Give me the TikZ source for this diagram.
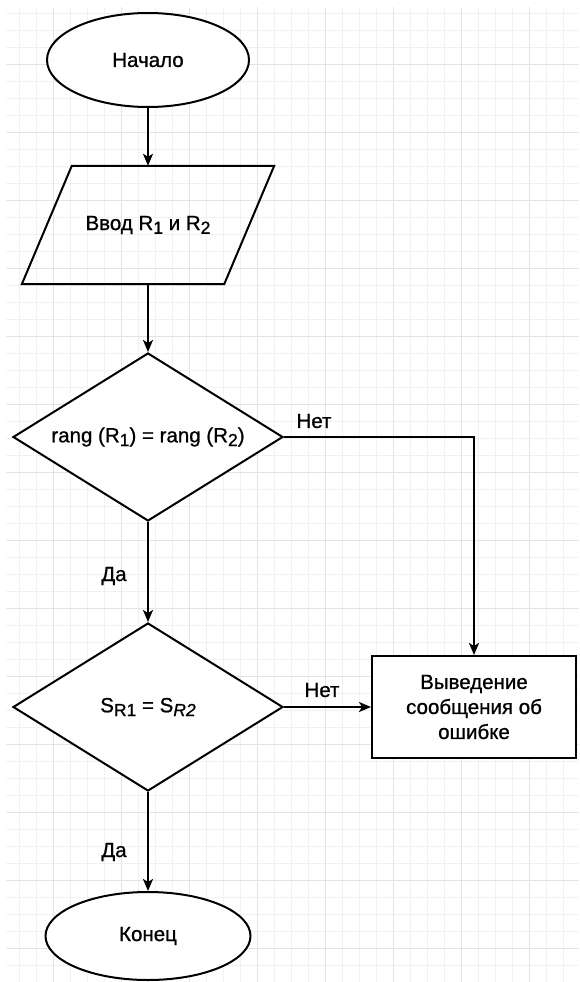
\documentclass[tikz,border=0pt]{standalone}
\usepackage{fontspec}
\setmainfont{Liberation Sans}[FakeBold=0.9]
\usetikzlibrary{shapes.geometric,arrows.meta,calc}

% lowered, slightly smaller index digits
\newcommand\lowidx[1]{\raisebox{-0.35ex}{\fontsize{17.5}{17.5}\selectfont #1}}

\definecolor{gridminor}{HTML}{F1F1F1}
\definecolor{gridmajor}{HTML}{E4E4E4}

\tikzset{
  shape line/.style={draw=black, line width=2pt, fill=white},
  terminal/.style={shape line, ellipse, inner sep=0pt},
  decision/.style={shape line, diamond, aspect=1.6, inner sep=0pt,
                   minimum width=270, minimum height=168},
  process/.style={shape line, rectangle, inner sep=0pt, align=center,
                  minimum width=204, minimum height=102},
  flow/.style={draw=black, line width=2pt,
               -{Stealth[length=12pt, width=10pt, inset=3pt]}},
  lbl/.style={inner sep=0pt},
  every node/.style={font=\fontsize{20.5}{25}\selectfont}
}

\begin{document}
\begin{tikzpicture}[x=1pt, y=-1pt]
  \useasboundingbox (0,0) rectangle (579,982);

  % background grid
  \foreach \gx in {19,36,...,579} \draw[gridminor, line width=0.8pt] (\gx,7) -- (\gx,982);
  \foreach \gy in {13,30,...,982} \draw[gridminor, line width=0.8pt] (6,\gy) -- (579,\gy);
  \foreach \gx in {53,121,...,579} \draw[gridmajor, line width=0.9pt] (\gx,7) -- (\gx,982);
  \foreach \gy in {64,132,...,982} \draw[gridmajor, line width=0.9pt] (6,\gy) -- (579,\gy);

  % blocks
  \node[terminal, minimum width=202, minimum height=94] (start) at (148,60) {Начало};

  \node[inner sep=0pt, minimum width=252, minimum height=118] (input) at (148,225)
       {Ввод R\lowidx{1} и R\lowidx{2}};
  \draw[shape line, fill=none]
       ($(input.north west)+(50,0)$) -- (input.north east)
       -- ($(input.south east)+(-50,0)$) -- (input.south west) -- cycle;

  \node[decision] (rank) at (148,437) {rang (R\lowidx{1}) = rang (R\lowidx{2})};
  \node[decision] (sum) at (148,707) {S\lowidx{R1} = S\lowidx{\itshape R2}};

  \node[process] (err) at (474,707) {Выведение\\сообщения об\\ошибке};

  \node[terminal, minimum width=205, minimum height=88] (stop) at (148,936) {Конец};

  % connectors
  \draw[flow] (start) -- (input);
  \draw[flow] (input) -- (rank);
  \draw[flow] (rank.east) -| (err.north);
  \draw[flow] (rank) -- (sum);
  \draw[flow] (sum) -- (err);
  \draw[flow] (sum) -- (stop);

  % branch labels
  \node[lbl] (no1) at (314,421) {Нет};
  \node[lbl] (no2) at (322,690) {Нет};
  \node[lbl] (yes1) at (114,576) {Да};
  \node[lbl] (yes2) at (114,852) {Да};
\end{tikzpicture}
\end{document}
